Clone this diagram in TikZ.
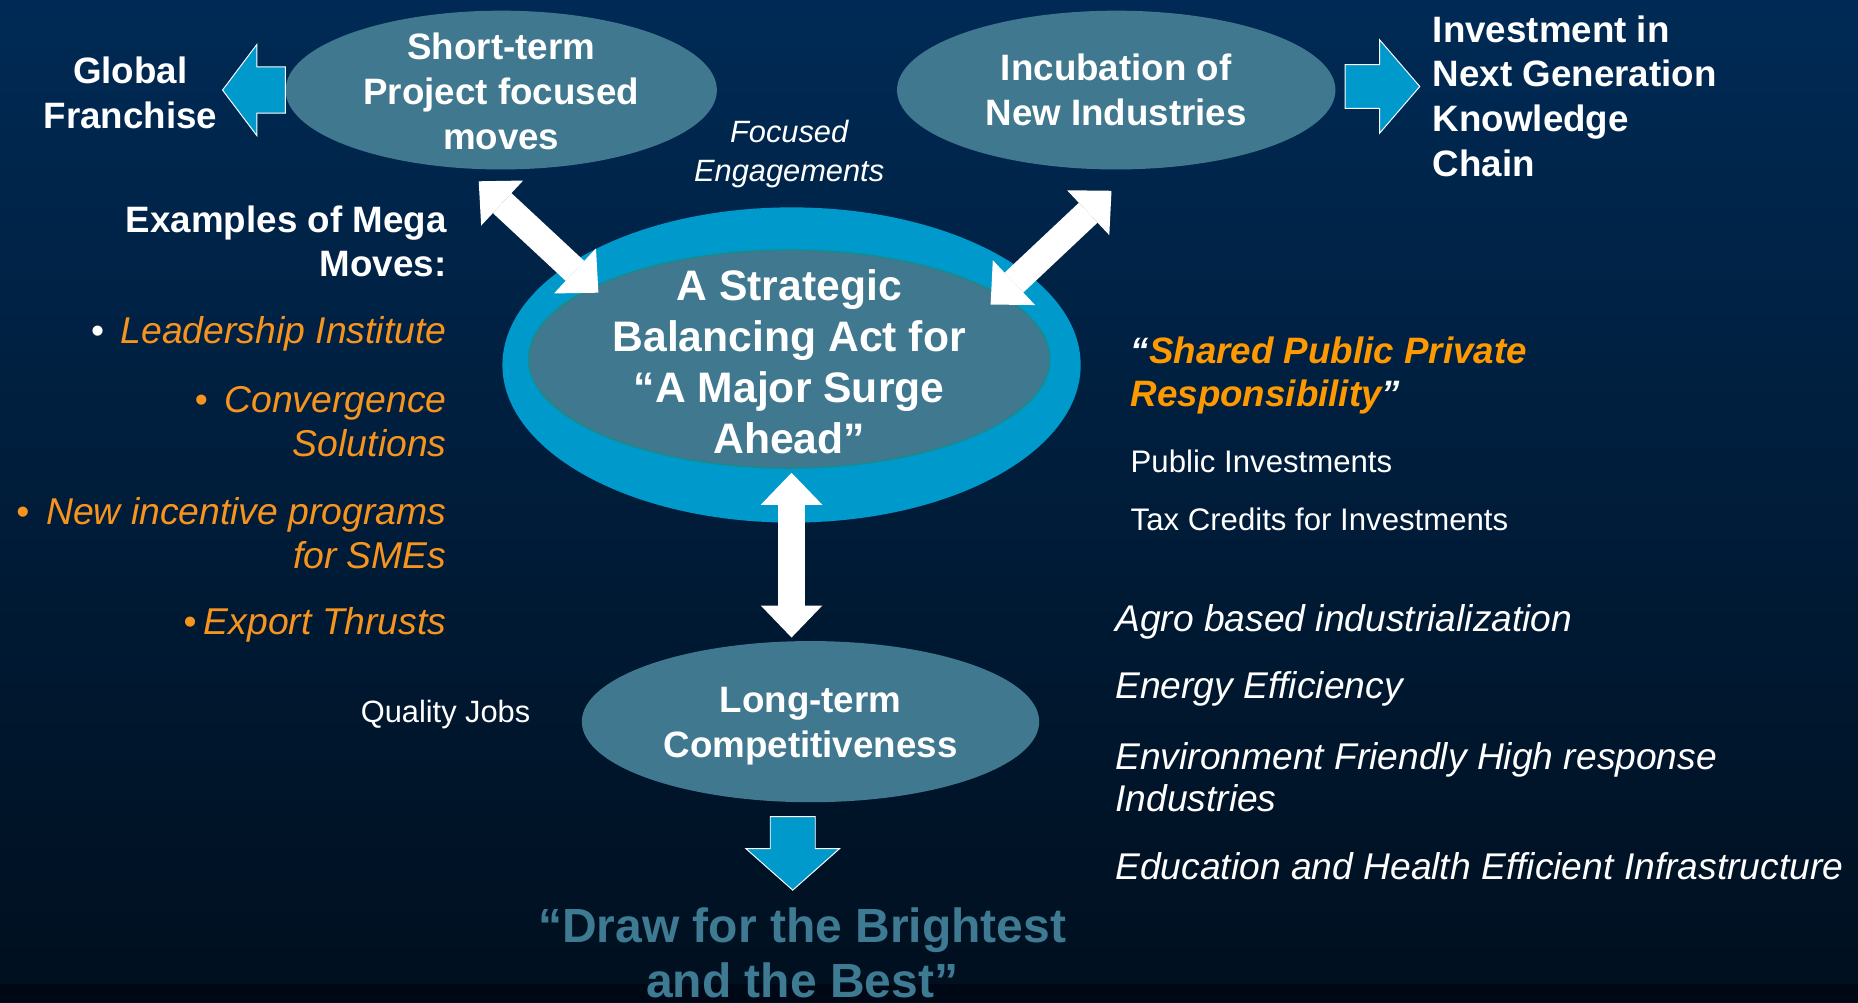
\documentclass[tikz,border=0pt]{standalone}
\usepackage{fontspec}
\setmainfont{Liberation Sans}
\usetikzlibrary{shapes.geometric,arrows.meta,calc}
\definecolor{bgtop}{HTML}{002A55}
\definecolor{bgmid}{HTML}{001D3B}
\definecolor{bgbot}{HTML}{000F1E}
\definecolor{bgstrip}{HTML}{000816}
\definecolor{ringblue}{HTML}{0099CC}
\definecolor{ellfill}{HTML}{3F788F}
\definecolor{innerline}{HTML}{178C8C}
\definecolor{orangeA}{HTML}{F7941E}
\definecolor{orangeB}{HTML}{FF9900}
\definecolor{drawtxt}{HTML}{3E7A92}
\newcommand\fsz[2]{\fontsize{#1}{#2}\selectfont}
\begin{document}
\begin{tikzpicture}[x=1pt,y=-1pt,
  ell/.style={ellipse, inner sep=0pt, fill=ellfill},
  etxt/.style={text=white, inner sep=0pt, align=center, font=\bfseries\fsz{31}{38}},
  wtxt/.style={text=white, inner sep=0pt},
  bul/.style={text=orangeA, inner sep=0pt, font=\itshape\fsz{31.5}{37}, align=right, anchor=east},
  rit/.style={text=white, inner sep=0pt, anchor=west, align=left, font=\itshape\fsz{31.4}{36}},
  dblarrow/.style={draw=white, line width=23pt,
    {Triangle[width=52pt,length=27pt,line width=0pt]}-{Triangle[width=52pt,length=27pt,line width=0pt]}},
  blockarrow/.style={fill=ringblue, draw=white, line width=0.8pt, line join=miter},
]
\useasboundingbox (0,0) rectangle (1568,846);
\shade[top color=bgtop, middle color=bgmid, bottom color=bgbot] (0,0) rectangle (1568,846);
\fill[bgstrip] (0,830) rectangle (1568,846);

% ellipses
\node[ell, minimum width=364pt, minimum height=134pt] (st) at (423,76) {};
\node[etxt] (stt) at ($(st)+(0,1)$) {Short-term\\Project focused\\moves};
\node[ell, minimum width=370pt, minimum height=134pt] (inc) at (942,76) {};
\node[etxt] (inct) at (inc) {Incubation of\\New Industries};
\node[ellipse, inner sep=0pt, fill=ringblue, minimum width=488pt, minimum height=266pt] (outer) at (668,308) {};
\node[ell, draw=innerline, line width=1.2pt, minimum width=440pt, minimum height=184pt] (inner) at (666,303) {};
\node[etxt, font=\bfseries\fsz{36}{43}] (innert) at ($(inner)+(0,2)$) {A Strategic\\Balancing Act for\\“A Major Surge\\Ahead”};
\node[ell, minimum width=386pt, minimum height=136pt] (lt) at (684,609) {};
\node[etxt] (ltt) at ($(lt)+(0,4)$) {Long-term\\Competitiveness};

% side texts
\node[wtxt, font=\bfseries\fsz{31}{38}, align=center] (gf) at (110,78) {Global\\Franchise};
\node[wtxt, font=\bfseries\fsz{31}{37.7}, align=left, anchor=west] (inv) at (1209,81) {Investment in\\Next Generation\\Knowledge\\Chain};
\node[wtxt, font=\bfseries\fsz{31}{37}, align=right, anchor=east] (ex) at (377,204) {Examples of Mega\\Moves:};
\node[bul] (b1) at (377,282) {{\upshape\textcolor{white}{•}}\hspace{14pt}Leadership Institute};
\node[bul] (b2) at (377,356) {{\upshape •}\hspace{14pt}Convergence\\Solutions};
\node[bul] (b3) at (377,450) {{\upshape •}\hspace{14pt}New incentive programs\\for SMEs};
\node[bul] (b4) at (377,527) {{\upshape •}\hspace{6pt}Export Thrusts};
\node[wtxt, font=\itshape\fsz{26}{33}, align=center] (fe) at (666,130) {Focused\\Engagements};
\node[inner sep=0pt, anchor=west, align=left, text=orangeB, font=\bfseries\itshape\fsz{31}{36}] (sh) at (954,317) {\textcolor{white}{“}Shared Public Private\\Responsibility\textcolor{white}{”}};
\node[wtxt, anchor=west, font=\fsz{26.3}{31}] (pi) at (954,389) {Public Investments};
\node[wtxt, anchor=west, font=\fsz{26.3}{31}] (tc) at (954,438) {Tax Credits for Investments};
\node[rit] (agro) at (941,525) {Agro based industrialization};
\node[rit] (ee) at (941,581) {Energy Efficiency};
\node[rit] (env) at (941,656) {Environment Friendly High response\\Industries};
\node[rit] (edu) at (941,731) {Education and Health Efficient Infrastructure};
\node[wtxt, font=\fsz{26}{31}] (qj) at (376,603) {Quality Jobs};
\node[inner sep=0pt, align=center, text=drawtxt, font=\bfseries\fsz{40.5}{47}] (dr) at (677,804) {“Draw for the Brightest\\and the Best”};

% block arrows
\draw[blockarrow] (st.west) ++(0,-19.5) -- ++(-24,0) -- ++(0,-19) -- ++(-29,38.5) -- ++(29,38.5) -- ++(0,-19) -- ++(24,0) -- cycle;
\draw[blockarrow] ($(inc.east)+(8,-21.5)$) -- ++(29,0) -- ++(0,-21) -- ++(34,39.5) -- ++(-34,39.5) -- ++(0,-21) -- ++(-29,0) -- cycle;
\draw[blockarrow] ($(lt.south)+(-34,12)$) -- ++(38,0) -- ++(0,27) -- ++(20.5,0) -- ++(-39.5,35) -- ++(-39.5,-35) -- ++(20.5,0) -- cycle;

% white double arrows
\coordinate (a1s) at (404,153);
\coordinate (a1e) at (505,247);
\coordinate (a2s) at (836,257);
\coordinate (a2e) at (938,161);
\coordinate (a3s) at (668,399);
\coordinate (a3e) at (668,538);
\draw[dblarrow] (a1s) -- (a1e);
\draw[dblarrow] (a2s) -- (a2e);
\draw[dblarrow] (a3s) -- (a3e);
\end{tikzpicture}
\end{document}
